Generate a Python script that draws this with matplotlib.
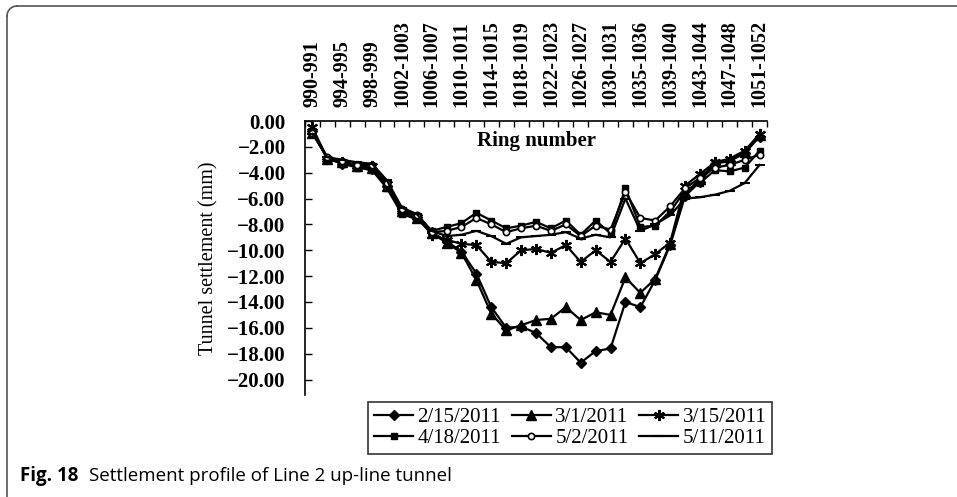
import numpy as np
import matplotlib
matplotlib.use("Agg")
import matplotlib.pyplot as plt
from matplotlib.lines import Line2D

rings = ["990-991", "992-993", "994-995", "996-997", "998-999", "1000-1001",
         "1002-1003", "1004-1005", "1006-1007", "1008-1009", "1010-1011",
         "1012-1013", "1014-1015", "1016-1017", "1018-1019", "1020-1021",
         "1022-1023", "1024-1025", "1026-1027", "1028-1029", "1030-1031",
         "1033-1034", "1035-1036", "1037-1038", "1039-1040", "1041-1042",
         "1043-1044", "1045-1046", "1047-1048", "1049-1050", "1051-1052"]

d0215 = [-0.8, -2.9, -3.3, -3.5, -3.7, -5.0, -7.0, -7.4, -8.6, -9.3, -10.1,
         -11.8, -14.4, -16.0, -15.9, -16.4, -17.5, -17.5, -18.7, -17.8, -17.6,
         -14.0, -14.4, -12.3, -9.6, -5.8, -4.7, -3.3, -3.1, -2.5, -1.2]
d0301 = [-0.9, -2.9, -3.2, -3.5, -3.6, -5.0, -7.0, -7.5, -8.7, -9.4, -10.2,
         -12.3, -14.9, -16.2, -15.8, -15.4, -15.3, -14.4, -15.4, -14.8, -15.0,
         -12.1, -13.3, -12.2, -9.5, -5.6, -4.5, -3.2, -3.0, -2.4, -1.1]
d0315 = [-0.5, -2.9, -3.2, -3.5, -3.5, -4.9, -7.0, -7.4, -8.8, -9.2, -9.5,
         -9.6, -10.9, -11.0, -10.0, -9.9, -10.2, -9.6, -10.9, -10.0, -10.9,
         -9.1, -11.0, -10.3, -9.4, -5.0, -4.1, -3.2, -2.9, -2.3, -1.0]
d0418 = [-0.8, -2.9, -3.3, -3.6, -3.8, -5.2, -7.2, -7.6, -8.5, -8.2, -7.9,
         -7.1, -7.7, -8.3, -8.1, -7.8, -8.3, -7.7, -8.8, -7.7, -8.7,
         -5.2, -8.2, -8.1, -7.0, -5.4, -4.8, -3.8, -3.9, -3.6, -2.3]
d0502 = [-0.9, -2.8, -3.1, -3.4, -3.4, -4.8, -6.8, -7.3, -8.6, -8.5, -8.2,
         -7.5, -8.0, -8.6, -8.3, -8.1, -8.5, -8.0, -8.9, -8.1, -8.4,
         -5.5, -7.5, -7.7, -6.6, -5.2, -4.4, -3.6, -3.4, -3.0, -2.6]
d0511 = [-1.0, -2.8, -3.0, -3.2, -3.3, -4.6, -6.7, -7.2, -8.5, -8.9, -8.8,
         -8.5, -8.9, -9.5, -9.0, -8.9, -8.8, -8.6, -9.1, -8.8, -9.0,
         -6.0, -8.5, -8.0, -7.3, -6.0, -5.9, -5.7, -5.4, -4.8, -3.4]

dates = ["2/15/2011", "3/1/2011", "3/15/2011", "4/18/2011", "5/2/2011", "5/11/2011"]

serif = "Liberation Serif"

fig = plt.figure(figsize=(9.57, 4.97), dpi=100)
ax = fig.add_axes([0.3187, 0.2052, 0.4828, 0.5513])

x = np.arange(len(rings))
k = dict(color="black", lw=1.6)
ax.plot(x, d0215, marker="D", ms=5, mfc="black", mec="black", label=dates[0], **k)
ax.plot(x, d0301, marker="^", ms=6.5, mfc="black", mec="black", label=dates[1], **k)
ax.plot(x, d0315, marker=(6, 2, 0), ms=8, mew=1.5, mec="black", label=dates[2], **k)
ax.plot(x, d0418, marker="s", ms=5, mfc="black", mec="black", label=dates[3], **k)
ax.plot(x, d0502, marker="o", ms=4.5, mfc="white", mec="black", mew=1.2, label=dates[4], **k)
ax.plot(x, d0511, marker="_", ms=7, mew=1.5, mec="black", label=dates[5], **k)

ax.set_xlim(-0.5, len(rings) - 0.5)
ax.set_ylim(-21.2, 0)

# category axis on top
ax.xaxis.tick_top()
ax.set_xticks(x[::2])
ax.set_xticklabels(rings[::2], rotation=90, fontfamily=serif, fontweight="bold", fontsize=14.5)
ax.set_xticks(np.arange(-0.5, len(rings)), minor=True)
ax.tick_params(axis="x", which="major", length=0, pad=10)
ax.tick_params(axis="x", which="minor", direction="in", length=4, width=1, top=True, bottom=False)

yt = np.arange(0, -21, -2)
ax.set_yticks(yt)
ax.set_yticklabels(["%.2f" % v if v == 0 else "\u2212%.2f" % abs(v) for v in yt],
                   fontfamily=serif, fontweight="bold", fontsize=15)
ax.tick_params(axis="y", direction="in", length=5, width=1, pad=14)

ax.spines["right"].set_visible(False)
ax.spines["bottom"].set_visible(False)
ax.spines["top"].set_linewidth(1.2)
ax.spines["left"].set_linewidth(1.2)

ax.set_ylabel("Tunnel settlement (mm)", fontfamily=serif, fontsize=14.5, labelpad=6)
ax.text(0.5, 0.927, "Ring number", transform=ax.transAxes, ha="center", va="center",
        fontfamily=serif, fontweight="bold", fontsize=15)

# legend filled row by row like the original
h, l = ax.get_legend_handles_labels()
order = [0, 3, 1, 4, 2, 5]
leg = fig.legend([h[i] for i in order], [l[i] for i in order], loc="center",
                 bbox_to_anchor=(570 / 957, 1 - 428 / 497), ncol=3,
                 prop={"family": serif, "size": 15}, frameon=True, fancybox=False,
                 edgecolor="black", handlelength=1.9, handletextpad=0.2,
                 columnspacing=0.5, labelspacing=0.05, borderpad=0.3)
leg.get_frame().set_linewidth(1.2)

# figure frame and caption
fig.add_artist(Line2D([7 / 957, 7 / 957], [0, 1 - 16 / 497], transform=fig.transFigure,
                      color="#555555", lw=1.2))
fig.add_artist(Line2D([17 / 957, 1], [1 - 6 / 497, 1 - 6 / 497], transform=fig.transFigure,
                      color="#555555", lw=1.2))
t = np.linspace(0, np.pi / 2, 20)
fig.add_artist(Line2D((17 - 10 * np.cos(t)) / 957, 1 - (16 - 10 * np.sin(t)) / 497,
                      transform=fig.transFigure, color="#555555", lw=1.2))

cap1 = fig.text(20 / 957, 1 - 476 / 497, "Fig. 18", fontfamily="Open Sans", fontweight="bold",
                fontsize=13.5, va="center")
fig.canvas.draw()
bb = cap1.get_window_extent()
fig.text((bb.x1 + 11) / 957, 1 - 476 / 497, "Settlement profile of Line 2 up-line tunnel",
         fontfamily="Open Sans", fontsize=13.5, va="center")

fig.savefig("out.png", dpi=100)
